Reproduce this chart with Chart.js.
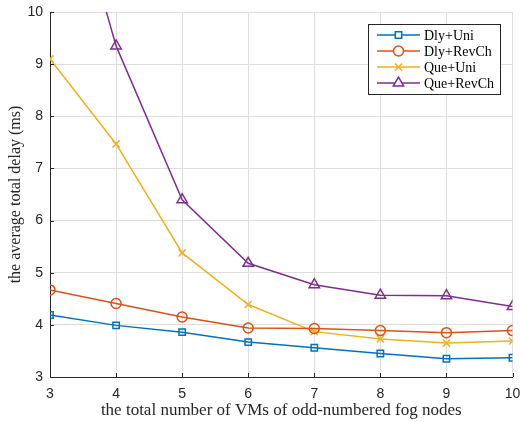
<!DOCTYPE html>
<html>
<head>
<meta charset="utf-8">
<script src="https://cdn.jsdelivr.net/npm/chart.js@4.4.1/dist/chart.umd.min.js"></script>
<style>
  html, body { margin: 0; padding: 0; background: #fff; }
  #wrap { width: 520px; height: 422px; }
</style>
</head>
<body>
<div id="wrap"><canvas id="delay"></canvas></div>
<script>
// values
const vmCounts = [3, 4, 5, 6, 7, 8, 9, 10];
const dlyUni   = [4.19, 3.99, 3.86, 3.67, 3.56, 3.45, 3.35, 3.37];
const dlyRevCh = [4.67, 4.41, 4.15, 3.94, 3.93, 3.89, 3.85, 3.89];
const queUni   = [9.10, 7.47, 5.38, 4.39, 3.87, 3.73, 3.65, 3.69];
const queRevCh = [13.8, 9.35, 6.40, 5.18, 4.77, 4.57, 4.56, 4.35];
const yTicks   = [3, 4, 5, 6, 7, 8, 9, 10];

const toPoints = arr => arr.map((v, i) => ({ x: vmCounts[i], y: v }));

// legend box drawn inside the plot, top right
const insideLegend = {
  id: 'insideLegend',
  afterDraw(chart) {
    const ctx = chart.ctx;
    const bx = 368, by = 24, bw = 132, bh = 70;
    ctx.save();
    ctx.fillStyle = '#fff';
    ctx.fillRect(bx, by, bw, bh);
    ctx.strokeStyle = '#262626';
    ctx.lineWidth = 1;
    ctx.strokeRect(bx + 0.5, by + 0.5, bw, bh);
    chart.data.datasets.forEach((ds, i) => {
      const y = by + 11 + i * 16;
      ctx.strokeStyle = ds.borderColor;
      ctx.lineWidth = 1.5;
      ctx.beginPath();
      ctx.moveTo(377, y);
      ctx.lineTo(420, y);
      ctx.stroke();
      ctx.fillStyle = '#fff';
      Chart.helpers.drawPoint(ctx, {
        pointStyle: ds.pointStyle,
        radius: ds.pointRadius,
        borderWidth: 1.5
      }, 398.5, y);
      ctx.fillStyle = '#000';
      ctx.font = '14px "Liberation Serif"';
      ctx.textBaseline = 'middle';
      ctx.fillText(ds.label, 424, y + 1);
    });
    ctx.restore();
  }
};

// small inward ticks like the original axes
const innerTicks = {
  id: 'innerTicks',
  afterDatasetsDraw(chart) {
    const { ctx, chartArea, scales } = chart;
    ctx.save();
    ctx.strokeStyle = '#262626';
    ctx.lineWidth = 1;
    ctx.beginPath();
    vmCounts.forEach(v => {
      const x = Math.round(scales.x.getPixelForValue(v)) + 0.5;
      ctx.moveTo(x, chartArea.bottom);
      ctx.lineTo(x, chartArea.bottom - 4);
    });
    yTicks.forEach(v => {
      const y = Math.round(scales.y.getPixelForValue(v)) + 0.5;
      ctx.moveTo(chartArea.left, y);
      ctx.lineTo(chartArea.left + 4, y);
    });
    ctx.stroke();
    ctx.restore();
  }
};

const series = (label, data, color, style, r) => ({
  label: label,
  data: toPoints(data),
  borderColor: color,
  backgroundColor: color,
  pointBorderColor: color,
  pointBackgroundColor: 'transparent',
  pointStyle: style,
  pointRadius: r,
  pointBorderWidth: 1.5,
  borderWidth: 1.5,
  tension: 0
});

new Chart(document.getElementById('delay'), {
  type: 'line',
  data: {
    datasets: [
      series('Dly+Uni', dlyUni, '#0072BD', 'rect', 4.5),
      series('Dly+RevCh', dlyRevCh, '#D95319', 'circle', 5),
      series('Que+Uni', queUni, '#EDB120', 'crossRot', 5),
      series('Que+RevCh', queRevCh, '#7E2F8E', 'triangle', 6)
    ]
  },
  options: {
    responsive: true,
    maintainAspectRatio: false,
    animation: false,
    events: [],
    layout: { padding: { top: 12, right: 5, left: 0, bottom: 0 } },
    plugins: {
      legend: { display: false },
      tooltip: { enabled: false }
    },
    scales: {
      x: {
        type: 'linear',
        min: 3,
        max: 10,
        afterFit: s => { s.height = 45; s.paddingLeft = 0; s.paddingRight = 0; },
        afterBuildTicks: s => { s.ticks = vmCounts.map(v => ({ value: v })); },
        grid: { color: '#dedede', drawTicks: false },
        border: { color: '#262626', width: 1 },
        ticks: {
          padding: 9,
          color: '#262626',
          font: { family: '"Liberation Sans"', size: 14 },
          maxRotation: 0
        },
        title: {
          display: true,
          text: 'the total number of VMs of odd-numbered fog nodes',
          color: '#262626',
          font: { family: '"Liberation Serif"', size: 17 },
          padding: { top: 0, bottom: 1 }
        }
      },
      y: {
        min: 3,
        max: 10,
        afterFit: s => { s.width = 50; s.paddingTop = 0; s.paddingBottom = 0; },
        afterBuildTicks: s => { s.ticks = yTicks.map(v => ({ value: v })); },
        grid: { color: '#dedede', drawTicks: false },
        border: { color: '#262626', width: 1 },
        ticks: {
          padding: 7,
          color: '#262626',
          font: { family: '"Liberation Sans"', size: 14 }
        },
        title: {
          display: true,
          text: 'the average total delay (ms)',
          color: '#262626',
          font: { family: '"Liberation Serif"', size: 16 },
          padding: { top: 6, bottom: 0 }
        }
      }
    }
  },
  plugins: [innerTicks, insideLegend]
});
</script>
</body>
</html>
